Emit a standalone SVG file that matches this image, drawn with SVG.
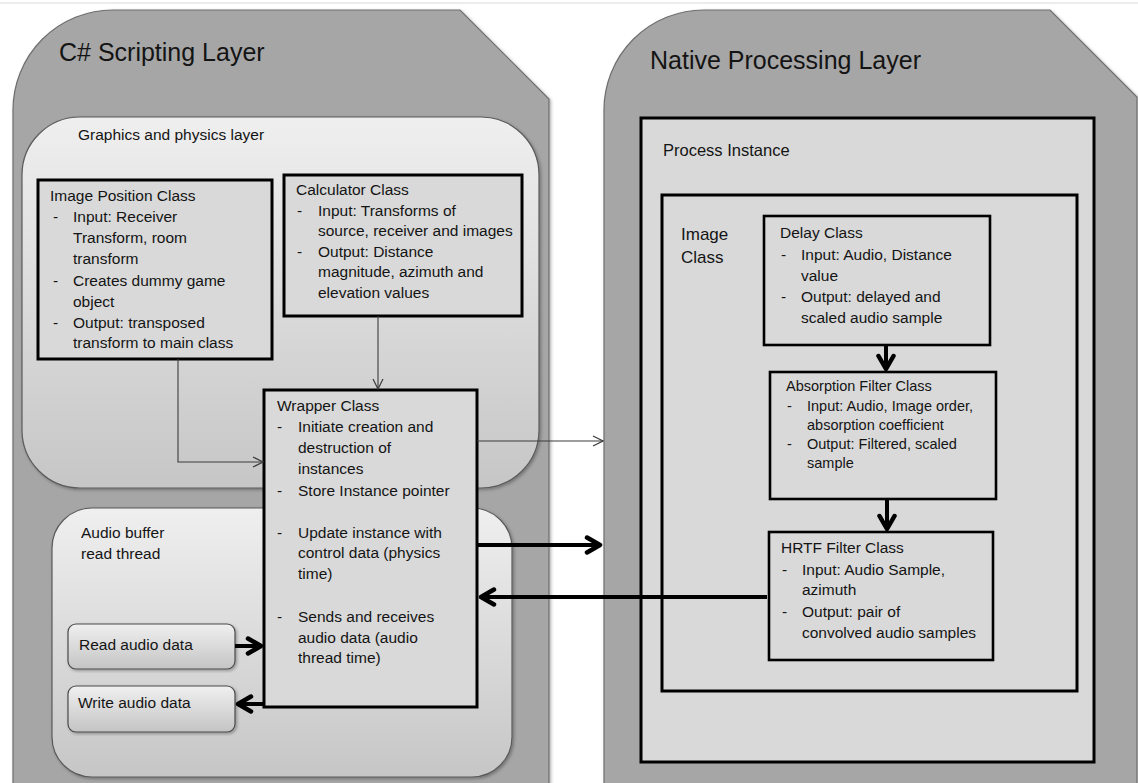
<svg xmlns="http://www.w3.org/2000/svg" width="1138" height="783" viewBox="0 0 1138 783">
<style>
.t{font-family:"Liberation Sans",Arial,sans-serif;fill:#141414}
.b{font-size:15.5px}
.s{font-size:14.5px}
.h{font-size:25px}
.outer{fill:#a6a6a6;stroke:#6e6e6e;stroke-width:1.2}
.box{fill:#d9d9d9;stroke:#000;stroke-width:3}
.box2{fill:#d9d9d9;stroke:#000;stroke-width:2.6}
.thin{fill:none;stroke:#3c3c3c;stroke-width:1.1}
.thick{fill:none;stroke:#000;stroke-width:4}
</style>
<defs>
<linearGradient id="gLayer" x1="0" y1="0" x2="0" y2="1">
<stop offset="0" stop-color="#efefef"/>
<stop offset="1" stop-color="#c6c6c6"/>
</linearGradient>
<linearGradient id="gBtn" x1="0" y1="0" x2="0" y2="1">
<stop offset="0" stop-color="#f0f0f0"/>
<stop offset="1" stop-color="#c4c4c4"/>
</linearGradient>
<filter id="sh" x="-5%" y="-5%" width="112%" height="112%">
<feDropShadow dx="1.5" dy="1.5" stdDeviation="1.5" flood-color="#000" flood-opacity="0.3"/>
</filter>
<marker id="mThin" viewBox="0 0 12 12" refX="11" refY="6" markerWidth="12" markerHeight="12" markerUnits="userSpaceOnUse" orient="auto">
<path d="M1,1 L11,6 L1,11" fill="none" stroke="#3c3c3c" stroke-width="1.2"/>
</marker>
<marker id="mThick" viewBox="0 0 20 20" refX="17" refY="10" markerWidth="20" markerHeight="20" markerUnits="userSpaceOnUse" orient="auto">
<path d="M3,2.5 L16,10 L3,17.5" fill="none" stroke="#000" stroke-width="4.5" stroke-linecap="round" stroke-linejoin="round"/>
</marker>
</defs>
<rect x="0" y="0" width="1138" height="783" fill="#fff"/>
<line x1="0" y1="3" x2="1138" y2="3" stroke="#ececec" stroke-width="2"/>

<g id="csharp-layer">
<path class="outer" filter="url(#sh)" d="M13,800 V110 A100,100 0 0 1 113,10 H460 L549,99 V800 Z"/>
<text class="t h" x="59" y="61">C# Scripting Layer</text>
</g>

<g id="native-layer">
<path class="outer" filter="url(#sh)" d="M604,800 V110 A100,100 0 0 1 704,10 H1050 L1137,97 V800 Z"/>
<text class="t h" x="650" y="69">Native Processing Layer</text>
</g>

<g id="graphics-layer">
<rect x="22" y="117" width="517" height="371" rx="58" fill="url(#gLayer)" stroke="#5a5a5a" stroke-width="1.2" filter="url(#sh)"/>
<text class="t b" x="78" y="140">Graphics and physics layer</text>
</g>

<g id="audio-buffer">
<rect x="52" y="508" width="460" height="269" rx="40" fill="url(#gLayer)" stroke="#5a5a5a" stroke-width="1.2" filter="url(#sh)"/>
<text class="t b"><tspan x="81" y="538">Audio buffer</tspan><tspan x="81" y="559">read thread</tspan></text>
</g>

<g id="image-position">
<rect class="box" x="38" y="180" width="234" height="179"/>
<text class="t b"><tspan x="50" y="201">Image Position Class</tspan><tspan x="53" y="222">-</tspan><tspan x="73" y="222">Input: Receiver</tspan><tspan x="73" y="243">Transform, room</tspan><tspan x="73" y="264">transform</tspan><tspan x="53" y="286">-</tspan><tspan x="73" y="286">Creates dummy game</tspan><tspan x="73" y="307">object</tspan><tspan x="53" y="328">-</tspan><tspan x="73" y="328">Output: transposed</tspan><tspan x="73" y="348">transform to main class</tspan></text>
</g>

<g id="calculator">
<rect class="box" x="284" y="175" width="238" height="141"/>
<text class="t b"><tspan x="296" y="195">Calculator Class</tspan><tspan x="297" y="216">-</tspan><tspan x="318" y="216">Input: Transforms of</tspan><tspan x="318" y="236">source, receiver and images</tspan><tspan x="297" y="257">-</tspan><tspan x="318" y="257">Output: Distance</tspan><tspan x="318" y="277">magnitude, azimuth and</tspan><tspan x="318" y="298">elevation values</tspan></text>
</g>

<g id="read-audio">
<rect x="68" y="624" width="167" height="45" rx="8" fill="url(#gBtn)" stroke="#4a4a4a" stroke-width="1.2" filter="url(#sh)"/>
<text class="t b" x="79" y="650">Read audio data</text>
</g>

<g id="write-audio">
<rect x="68" y="686" width="167" height="46" rx="8" fill="url(#gBtn)" stroke="#4a4a4a" stroke-width="1.2" filter="url(#sh)"/>
<text class="t b" x="78" y="708">Write audio data</text>
</g>

<g id="wrapper">
<rect class="box" x="264" y="390" width="213" height="317"/>
<text class="t b"><tspan x="277" y="411">Wrapper Class</tspan><tspan x="277" y="432">-</tspan><tspan x="298" y="432">Initiate creation and</tspan><tspan x="298" y="453">destruction of</tspan><tspan x="298" y="474">instances</tspan><tspan x="277" y="496">-</tspan><tspan x="298" y="496">Store Instance pointer</tspan><tspan x="277" y="538">-</tspan><tspan x="298" y="538">Update instance with</tspan><tspan x="298" y="558">control data (physics</tspan><tspan x="298" y="579">time)</tspan><tspan x="277" y="622">-</tspan><tspan x="298" y="622">Sends and receives</tspan><tspan x="298" y="643">audio data (audio</tspan><tspan x="298" y="663">thread time)</tspan></text>
</g>

<g id="process-instance">
<rect class="box" x="641" y="118" width="453" height="644"/>
<text class="t" style="font-size:16.5px" x="663" y="156">Process Instance</text>
</g>

<g id="image-class">
<rect class="box" x="662" y="195" width="415" height="496"/>
<text class="t" style="font-size:17px"><tspan x="681" y="240">Image</tspan><tspan x="681" y="263">Class</tspan></text>
</g>

<g id="delay">
<rect class="box2" x="764" y="216" width="226" height="129"/>
<text class="t b"><tspan x="780" y="238">Delay Class</tspan><tspan x="781" y="260">-</tspan><tspan x="801" y="260">Input: Audio, Distance</tspan><tspan x="801" y="281">value</tspan><tspan x="781" y="302">-</tspan><tspan x="801" y="302">Output: delayed and</tspan><tspan x="801" y="323">scaled audio sample</tspan></text>
</g>

<g id="absorption">
<rect class="box2" x="770" y="372" width="226" height="127"/>
<text class="t s"><tspan x="786" y="391">Absorption Filter Class</tspan><tspan x="787" y="411">-</tspan><tspan x="807" y="411">Input: Audio, Image order,</tspan><tspan x="807" y="430">absorption coefficient</tspan><tspan x="787" y="449">-</tspan><tspan x="807" y="449">Output: Filtered, scaled</tspan><tspan x="807" y="468">sample</tspan></text>
</g>

<g id="hrtf">
<rect class="box2" x="769" y="532" width="224" height="128"/>
<text class="t b"><tspan x="781" y="553">HRTF Filter Class</tspan><tspan x="782" y="575">-</tspan><tspan x="802" y="575">Input: Audio Sample,</tspan><tspan x="802" y="595">azimuth</tspan><tspan x="782" y="617">-</tspan><tspan x="802" y="617">Output: pair of</tspan><tspan x="802" y="638">convolved audio samples</tspan></text>
</g>

<g id="connectors">
<path class="thin" d="M178,359 V462 H263" marker-end="url(#mThin)"/>
<path class="thin" d="M378,316 V389" marker-end="url(#mThin)"/>
<path class="thin" d="M477,441 H603" marker-end="url(#mThin)"/>
<path class="thick" d="M478,545 H601" marker-end="url(#mThick)"/>
<path class="thick" d="M767,597 H480" marker-end="url(#mThick)"/>
<path class="thick" d="M235,646 H262" marker-end="url(#mThick)"/>
<path class="thick" d="M263,704 H237" marker-end="url(#mThick)"/>
<path class="thick" d="M886,346 V370" marker-end="url(#mThick)"/>
<path class="thick" d="M887,500 V530" marker-end="url(#mThick)"/>
</g>
</svg>
